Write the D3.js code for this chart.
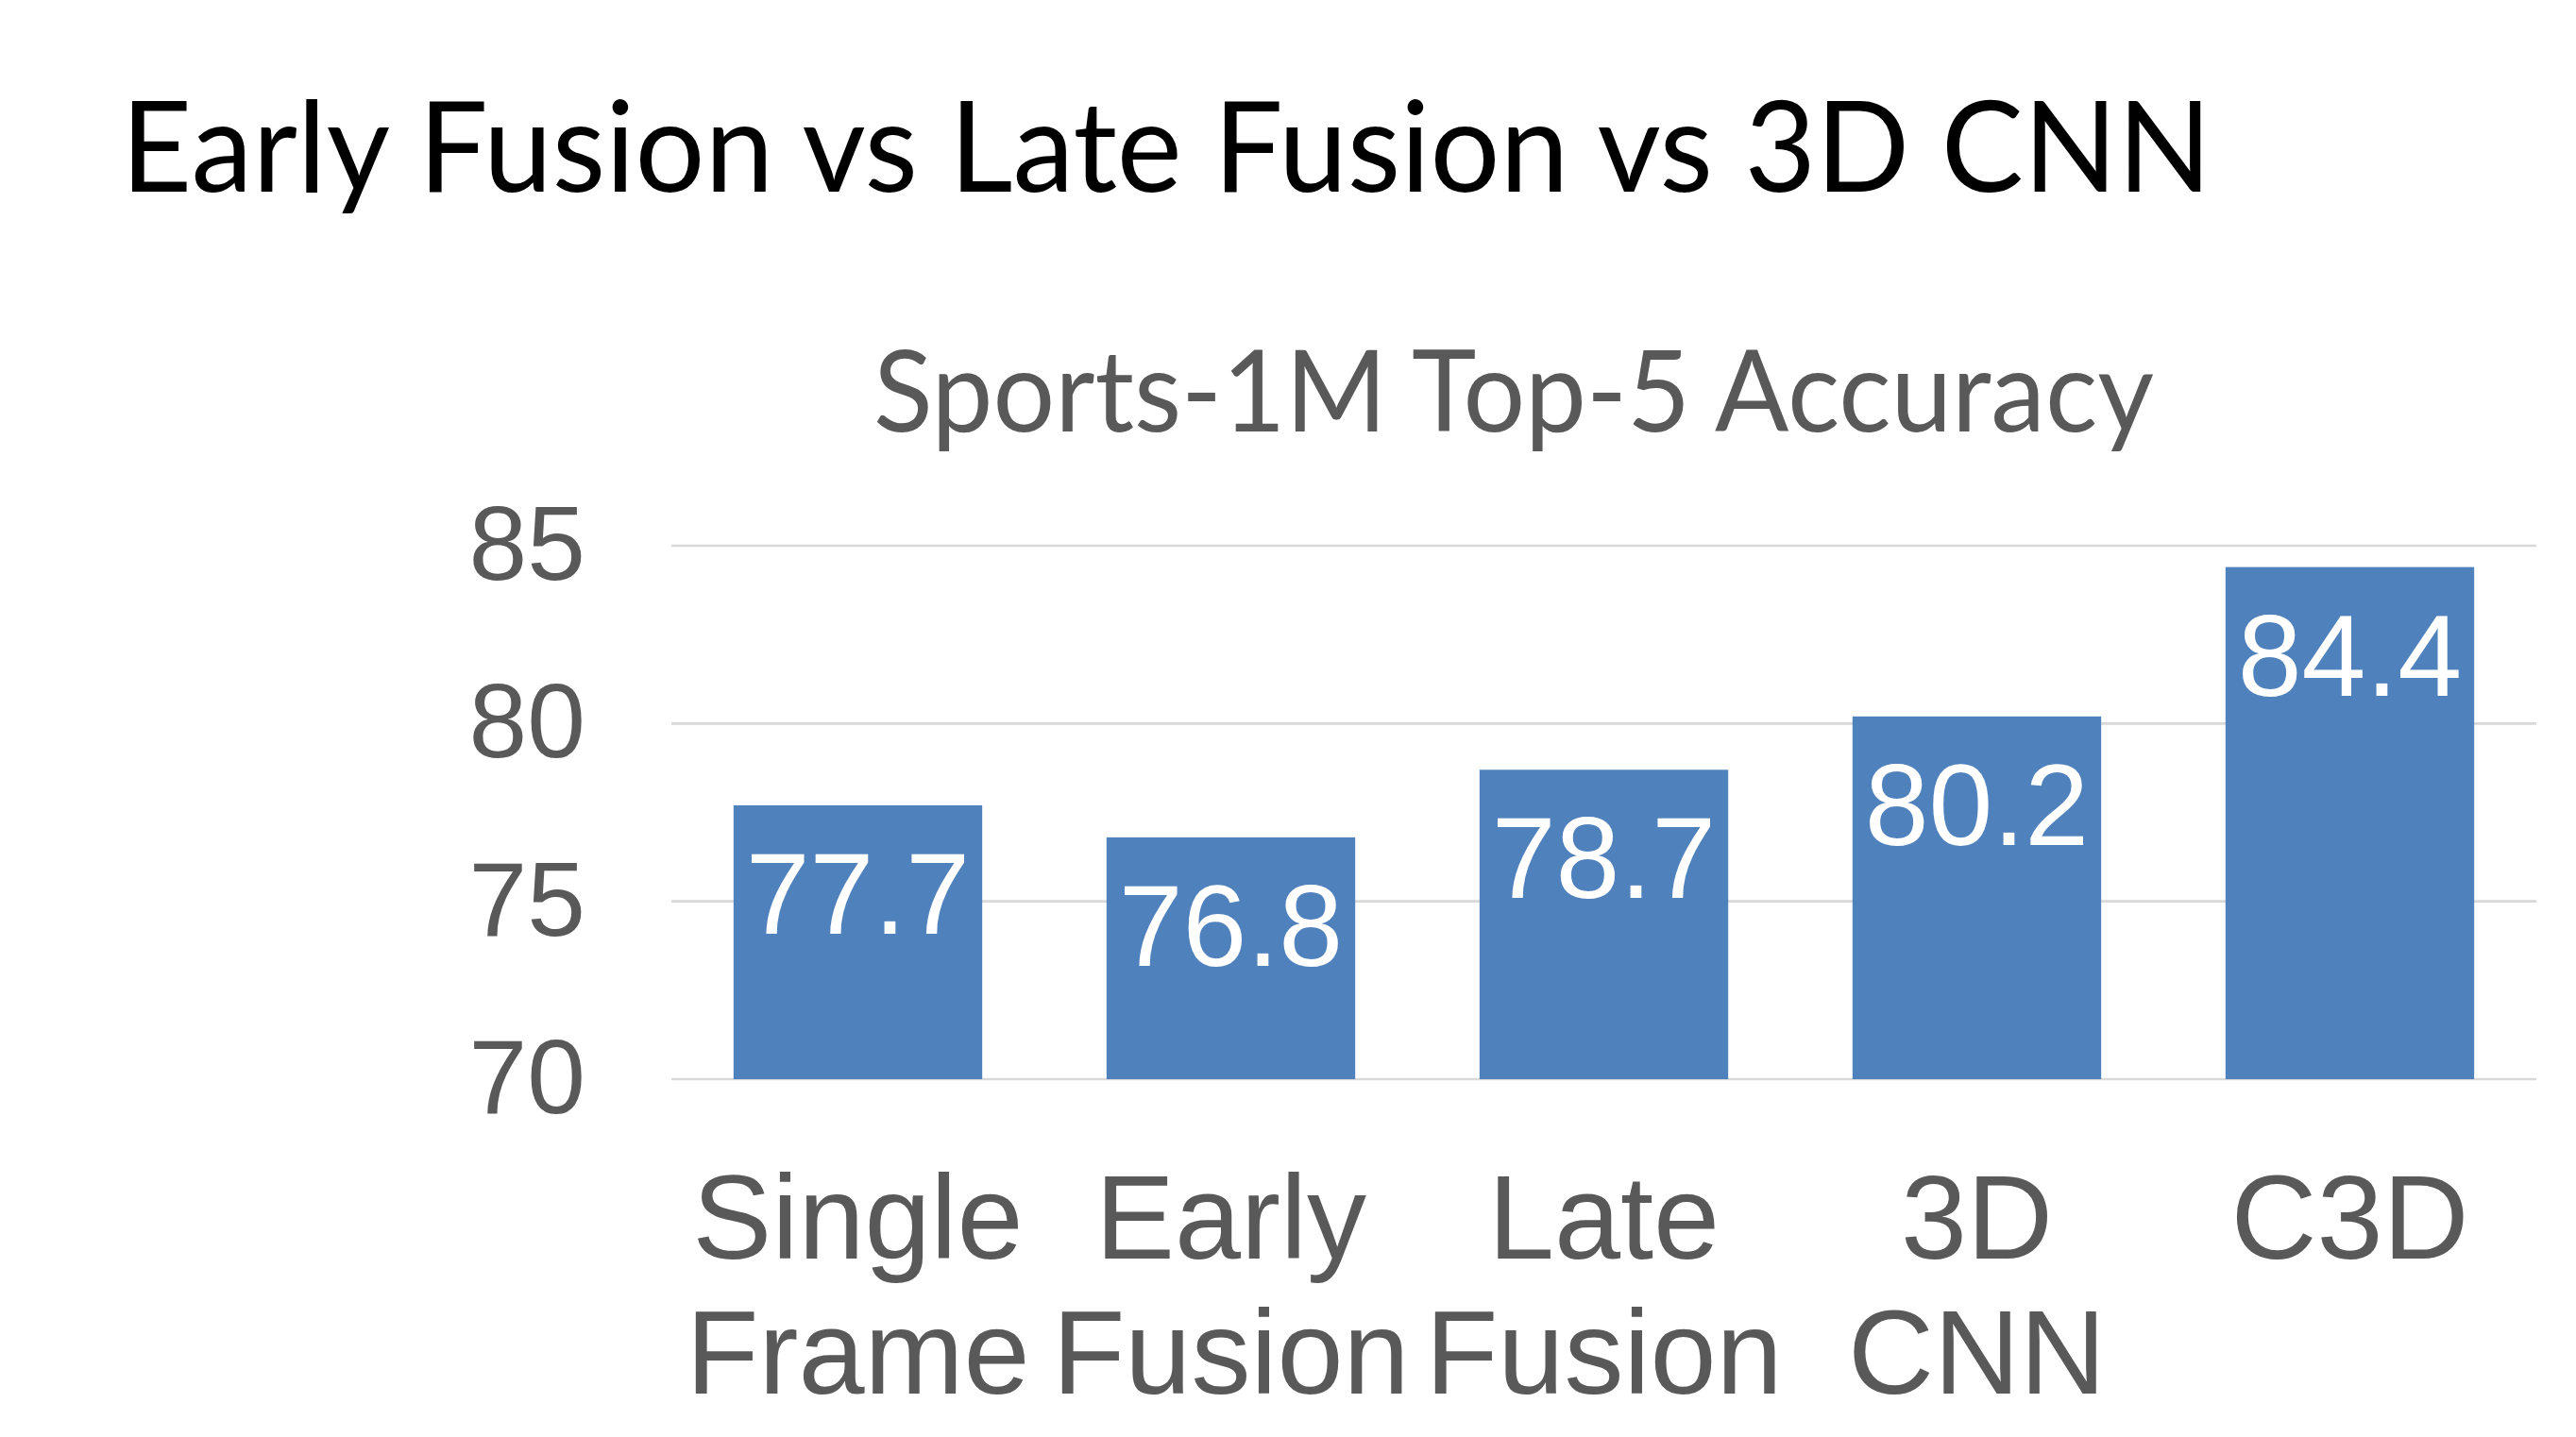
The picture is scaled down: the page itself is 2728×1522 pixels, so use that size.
<!DOCTYPE html>
<html>
<head>
<meta charset="utf-8">
<script src="https://cdn.jsdelivr.net/npm/d3@7"></script>
<style>
  html, body { margin: 0; padding: 0; background: #ffffff; }
  svg { display: block; }
</style>
</head>
<body>
<svg id="chart" width="2728" height="1522"></svg>
<script>
const titleText = "Early Fusion vs Late Fusion vs 3D CNN";
const subtitleText = "Sports-1M Top-5 Accuracy";
const categories = [["Single", "Frame"], ["Early", "Fusion"], ["Late", "Fusion"], ["3D", "CNN"], ["C3D"]];
const values = [77.7, 76.8, 78.7, 80.2, 84.4];
const yTicks = [70, 75, 80, 85];

const svg = d3.select("#chart");
svg.append("rect").attr("width", 2728).attr("height", 1522).attr("fill", "#ffffff");

const plot = { left: 711, right: 2686, top: 578, bottom: 1143 };

const x = d3.scaleBand()
  .domain(d3.range(categories.length))
  .range([plot.left, plot.right])
  .paddingInner(1 / 3)
  .paddingOuter(1 / 6);

const y = d3.scaleLinear()
  .domain([70, 85])
  .range([plot.bottom, plot.top]);

// Title
svg.append("text")
  .attr("x", 128).attr("y", 203)
  .attr("font-family", "Lato, 'Open Sans', sans-serif")
  .attr("font-size", 134)
  .attr("fill", "#000000")
  .attr("textLength", 2214)
  .attr("lengthAdjust", "spacingAndGlyphs")
  .text(titleText);

// Subtitle
svg.append("text")
  .attr("x", 925).attr("y", 457)
  .attr("font-family", "Lato, 'Open Sans', sans-serif")
  .attr("font-size", 121)
  .attr("fill", "#595959")
  .attr("textLength", 1356)
  .attr("lengthAdjust", "spacingAndGlyphs")
  .text(subtitleText);

// Gridlines
svg.append("g")
  .selectAll("line")
  .data(yTicks)
  .join("line")
  .attr("x1", plot.left).attr("x2", plot.right)
  .attr("y1", d => y(d)).attr("y2", d => y(d))
  .attr("stroke", "#d9d9d9")
  .attr("stroke-width", 2.7);

// Y axis labels
const yAxis = d3.axisLeft(y).tickValues(yTicks).tickSize(0).tickPadding(0);
const yg = svg.append("g").attr("transform", "translate(620,0)").call(yAxis);
yg.select(".domain").remove();
yg.selectAll("text")
  .attr("font-family", "'Liberation Sans', Arial, sans-serif")
  .attr("font-size", 111)
  .attr("fill", "#595959")
  .attr("dy", "0.32em")
  .attr("x", 0);

// Bars
svg.append("g")
  .selectAll("rect")
  .data(values)
  .join("rect")
  .attr("x", (d, i) => x(i))
  .attr("width", x.bandwidth())
  .attr("y", d => y(d))
  .attr("height", d => y(70) - y(d))
  .attr("fill", "#4F81BD");

// Value labels
svg.append("g")
  .selectAll("text")
  .data(values)
  .join("text")
  .attr("x", (d, i) => x(i) + x.bandwidth() / 2)
  .attr("y", d => y(d) + 136)
  .attr("text-anchor", "middle")
  .attr("font-family", "'Liberation Sans', Arial, sans-serif")
  .attr("font-size", 122)
  .attr("fill", "#ffffff")
  .text(d => d.toFixed(1));

// Category labels
const cg = svg.append("g")
  .selectAll("text")
  .data(categories)
  .join("text")
  .attr("text-anchor", "middle")
  .attr("font-family", "'Liberation Sans', Arial, sans-serif")
  .attr("font-size", 126)
  .attr("fill", "#595959");
cg.selectAll("tspan")
  .data((d, i) => d.map((t, j) => ({ t, j, i })))
  .join("tspan")
  .attr("x", d => x(d.i) + x.bandwidth() / 2)
  .attr("y", d => 1333 + d.j * 143)
  .text(d => d.t);
</script>
</body>
</html>
